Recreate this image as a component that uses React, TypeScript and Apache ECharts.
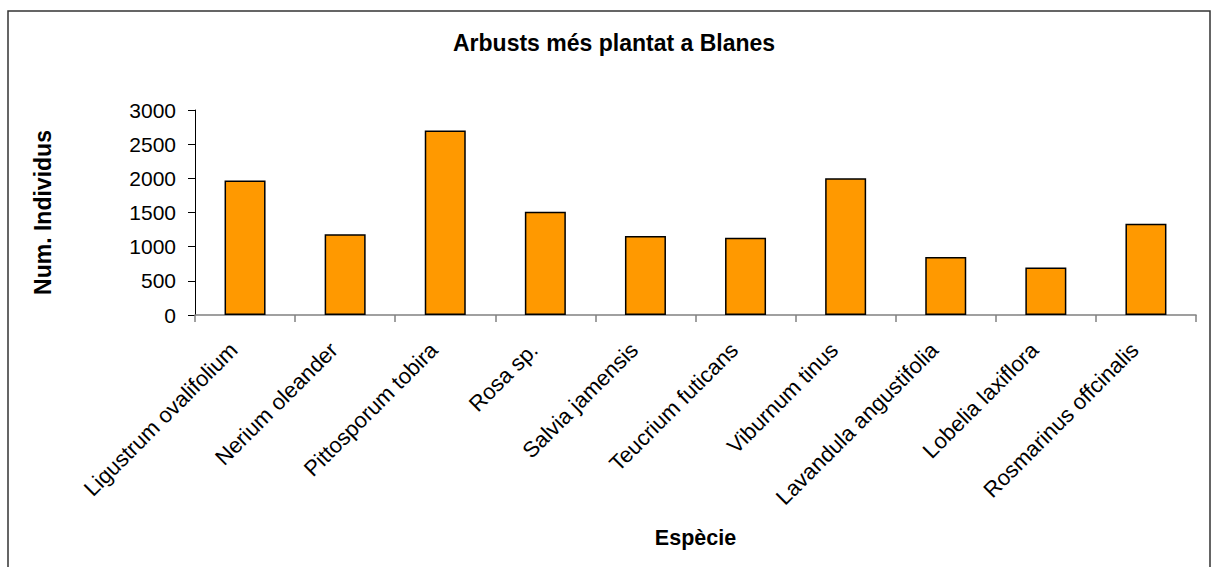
import React, { useEffect, useRef } from "react";
import * as echarts from "echarts";

const categories = [
  "Ligustrum ovalifolium",
  "Nerium oleander",
  "Pittosporum tobira",
  "Rosa sp.",
  "Salvia jamensis",
  "Teucrium futicans",
  "Viburnum tinus",
  "Lavandula angustifolia",
  "Lobelia laxiflora",
  "Rosmarinus offcinalis",
];
const individus = [1970, 1180, 2700, 1510, 1155, 1130, 2000, 850, 695, 1335];
const yTicks = { min: 0, max: 3000, interval: 500 };
const chartTitle = "Arbusts més plantat a Blanes";
const xTitle = "Espècie";
const yTitle = "Num. Individus";

const FONT = "'Liberation Sans', Arial, sans-serif";

export default function App() {
  const ref = useRef<HTMLDivElement>(null);
  useEffect(() => {
    if (!ref.current) return;
    const chart = echarts.init(ref.current, null, { renderer: "svg" });
    chart.setOption({
      animation: false,
      backgroundColor: "#ffffff",
      textStyle: { fontFamily: FONT },
      title: {
        text: chartTitle,
        left: 453,
        top: 31,
        padding: 0,
        textStyle: { fontFamily: FONT, fontSize: 23, fontWeight: "bold", color: "#000" },
      },
      graphic: [
        {
          type: "rect",
          shape: { x: 8, y: 11, width: 1202, height: 600 },
          style: { fill: "none", stroke: "#333", lineWidth: 1.5 },
          silent: true,
          z: -1,
        },
      ],
      grid: {
        left: 195,
        right: 17,
        top: 110,
        bottom: 252,
        containLabel: false,
        outerBoundsMode: "none",
      },
      xAxis: {
        type: "category",
        data: categories,
        name: xTitle,
        nameLocation: "middle",
        nameGap: 212,
        nameTextStyle: { fontFamily: FONT, fontSize: 21.5, fontWeight: "bold", color: "#000" },
        axisLine: { lineStyle: { color: "#808080", width: 1.5 } },
        axisTick: { show: true, length: 7, lineStyle: { color: "#808080", width: 1.5 } },
        axisLabel: {
          rotate: 45,
          interval: 0,
          margin: 20,
          padding: [0, 16, 0, 0],
          fontFamily: FONT,
          fontSize: 22,
          color: "#000",
        },
        splitLine: { show: false },
      },
      yAxis: {
        type: "value",
        min: yTicks.min,
        max: yTicks.max,
        interval: yTicks.interval,
        name: yTitle,
        nameLocation: "middle",
        nameGap: 141,
        nameTextStyle: { fontFamily: FONT, fontSize: 23, fontWeight: "bold", color: "#000" },
        axisLine: { show: true, lineStyle: { color: "#000", width: 1 } },
        axisTick: { show: true, length: 7, lineStyle: { color: "#000", width: 1 } },
        axisLabel: {
          margin: 19,
          fontFamily: FONT,
          fontSize: 21,
          color: "#000",
          formatter: (v: number) => String(v),
        },
        splitLine: { show: false },
      },
      series: [
        {
          type: "bar",
          data: individus,
          barWidth: 41,
          itemStyle: { color: "#FF9900", borderColor: "#000", borderWidth: 1.5 },
        },
      ],
    });
    return () => chart.dispose();
  }, []);
  return (
    <div
      ref={ref}
      style={{ position: "fixed", left: 0, top: 0, width: 1213, height: 567 }}
    />
  );
}
